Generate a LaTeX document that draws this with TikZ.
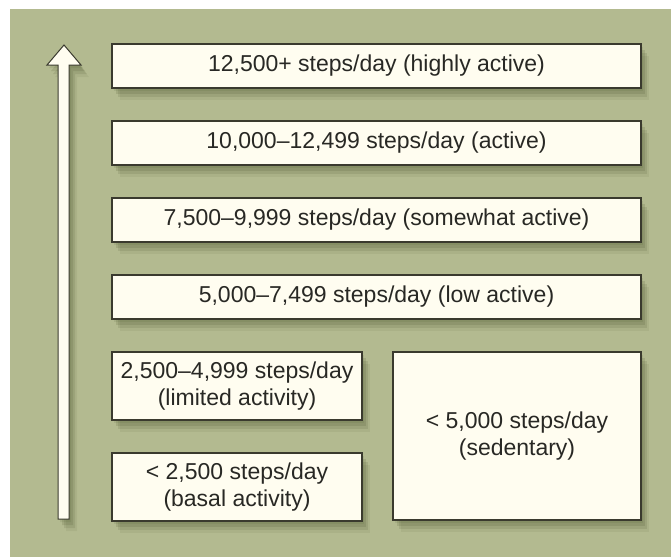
\documentclass[tikz,border=0pt]{standalone}
\usepackage{fontspec}
\setmainfont{Liberation Sans}
\usepackage{xcolor}
\usetikzlibrary{positioning,shadows}

\definecolor{bggreen}{RGB}{179,186,144}
\definecolor{boxcream}{RGB}{255,253,240}
\definecolor{edgegray}{RGB}{58,58,46}
\definecolor{textgray}{RGB}{40,40,36}
\definecolor{shadowolive}{RGB}{60,70,30}

\begin{document}
\begin{tikzpicture}[
    x=1pt, y=-1pt,
    node distance=31.4pt,
    font=\fontsize{23}{27}\selectfont,
    softshadow/.style={
        drop shadow={shadow xshift=2pt, shadow yshift=-3pt, opacity=.10, fill=shadowolive},
        drop shadow={shadow xshift=4pt, shadow yshift=-6pt, opacity=.14, fill=shadowolive},
        drop shadow={shadow xshift=6pt, shadow yshift=-9pt, opacity=.12, fill=shadowolive},
        drop shadow={shadow xshift=8pt, shadow yshift=-12pt, opacity=.07, fill=shadowolive}},
    box/.style={rectangle, draw=edgegray, line width=1.6pt, fill=boxcream, text=textgray,
        align=center, inner sep=0pt, softshadow},
    rowbox/.style={box, minimum width=529pt, minimum height=44pt},
    halfbox/.style={box, minimum width=250pt, minimum height=68pt},
    scalearrow/.style={draw=edgegray, line width=1pt, fill=boxcream, line join=miter, softshadow}
]
    \useasboundingbox (0,0) rectangle (671,557);
    \fill[white] (0,0) rectangle (671,557);
    \fill[bggreen] (10,9) rectangle (671,557);

    \filldraw[scalearrow] (58,519) -- (58,65) -- (47,65) -- (64,45) -- (81,65) -- (69,65) -- (69,519) -- cycle;

    \node[rowbox] (highly) at (376.5,66) {12,500+ steps/day (highly active)};
    \node[rowbox, below=of highly] (active) {10,000–12,499 steps/day (active)};
    \node[rowbox, below=of active] (somewhat) {7,500–9,999 steps/day (somewhat active)};
    \node[rowbox, below=of somewhat] (low) {5,000–7,499 steps/day (low active)};
    \node[halfbox, below=of low.south west, anchor=north west] (limited) {2,500–4,999 steps/day\\(limited activity)};
    \node[halfbox, below=of limited] (basal) {< 2,500 steps/day\\(basal activity)};
    \node[box, minimum width=248pt, minimum height=168pt, below=of low.south east, anchor=north east] (sedentary) {< 5,000 steps/day\\(sedentary)};
\end{tikzpicture}
\end{document}
